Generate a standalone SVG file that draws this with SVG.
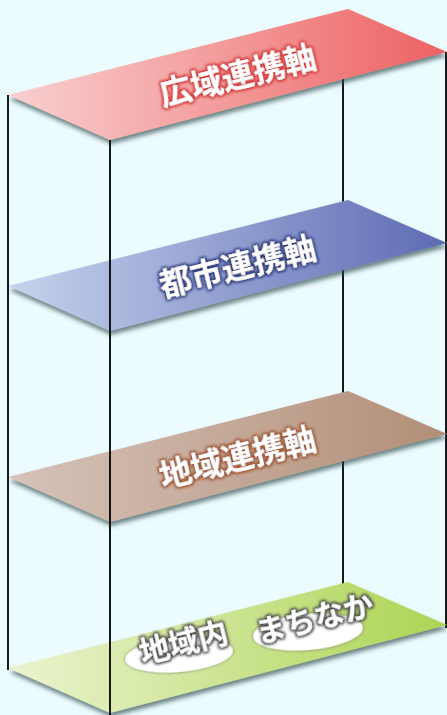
<svg xmlns="http://www.w3.org/2000/svg" width="447" height="715" viewBox="0 0 447 715">
<defs>
<style>
.ln{stroke:#000;stroke-width:1.8;fill:none}
.lbl{font-family:"Noto Sans CJK JP","Noto Sans",sans-serif;font-weight:bold;font-size:32px;fill:#fff;text-anchor:middle;dominant-baseline:central}
.lbl2{font-family:"Noto Sans CJK JP","Noto Sans",sans-serif;font-weight:bold;font-size:30px;fill:#fff;text-anchor:middle;dominant-baseline:central}
</style>
<polygon id="pl" points="8,95 348,9 447,52 110,140"/>
<linearGradient id="gR" x1="8" y1="0" x2="447" y2="0" gradientUnits="userSpaceOnUse"><stop offset="0" stop-color="#F9D0D0"/><stop offset="1" stop-color="#ED6262"/></linearGradient>
<linearGradient id="gB" x1="8" y1="0" x2="447" y2="0" gradientUnits="userSpaceOnUse"><stop offset="0" stop-color="#C7D2EC"/><stop offset="1" stop-color="#5D6BB4"/></linearGradient>
<linearGradient id="gT" x1="8" y1="0" x2="447" y2="0" gradientUnits="userSpaceOnUse"><stop offset="0" stop-color="#D6C3B9"/><stop offset="1" stop-color="#B28E77"/></linearGradient>
<linearGradient id="gG" x1="8" y1="0" x2="447" y2="0" gradientUnits="userSpaceOnUse"><stop offset="0" stop-color="#EBF4D0"/><stop offset="1" stop-color="#ADD454"/></linearGradient>
<filter id="sh" x="-10%" y="-20%" width="120%" height="150%"><feDropShadow dx="1" dy="4" stdDeviation="2.2" flood-color="#2a4848" flood-opacity="0.65"/></filter>
<filter id="esh" x="-20%" y="-40%" width="140%" height="180%"><feDropShadow dx="0" dy="0" stdDeviation="1.6" flood-color="#555" flood-opacity="0.8"/></filter>
<filter id="glR" x="-20%" y="-50%" width="140%" height="200%"><feMorphology in="SourceAlpha" operator="dilate" radius="1.2" result="d"/><feGaussianBlur in="d" stdDeviation="1.6" result="b"/><feFlood flood-color="#D43A3A"/><feComposite in2="b" operator="in" result="g"/><feMerge><feMergeNode in="g"/><feMergeNode in="g"/><feMergeNode in="SourceGraphic"/></feMerge></filter>
<filter id="glB" x="-20%" y="-50%" width="140%" height="200%"><feMorphology in="SourceAlpha" operator="dilate" radius="1.2" result="d"/><feGaussianBlur in="d" stdDeviation="1.6" result="b"/><feFlood flood-color="#2E3C80"/><feComposite in2="b" operator="in" result="g"/><feMerge><feMergeNode in="g"/><feMergeNode in="g"/><feMergeNode in="SourceGraphic"/></feMerge></filter>
<filter id="glT" x="-20%" y="-50%" width="140%" height="200%"><feMorphology in="SourceAlpha" operator="dilate" radius="1.2" result="d"/><feGaussianBlur in="d" stdDeviation="1.6" result="b"/><feFlood flood-color="#A0552E"/><feComposite in2="b" operator="in" result="g"/><feMerge><feMergeNode in="g"/><feMergeNode in="g"/><feMergeNode in="SourceGraphic"/></feMerge></filter>
<filter id="glG" x="-20%" y="-50%" width="140%" height="200%"><feMorphology in="SourceAlpha" operator="dilate" radius="1.2" result="d"/><feGaussianBlur in="d" stdDeviation="1.6" result="b"/><feFlood flood-color="#4A4A4A"/><feComposite in2="b" operator="in" result="g"/><feMerge><feMergeNode in="g"/><feMergeNode in="g"/><feMergeNode in="SourceGraphic"/></feMerge></filter>
</defs>
<rect width="447" height="715" fill="#ECFBFE"/>
<g id="back-lines">
<line class="ln" x1="343" y1="70" x2="343" y2="600"/>
<line class="ln" x1="446" y1="52" x2="446" y2="628"/>
</g>
<g id="layer-kouiki">
<use href="#pl" fill="url(#gR)" filter="url(#sh)"/>
<text class="lbl" x="237" y="73" transform="rotate(-14 237 73)" filter="url(#glR)">広域連携軸</text>
</g>
<g id="layer-toshi" transform="translate(0,191)">
<use href="#pl" fill="url(#gB)" filter="url(#sh)"/>
<text class="lbl" x="237" y="73" transform="rotate(-14 237 73)" filter="url(#glB)">都市連携軸</text>
</g>
<g id="layer-chiiki" transform="translate(0,382)">
<use href="#pl" fill="url(#gT)" filter="url(#sh)"/>
<text class="lbl" x="237" y="73" transform="rotate(-14 237 73)" filter="url(#glT)">地域連携軸</text>
</g>
<g id="layer-machinaka" transform="translate(0,573)">
<use href="#pl" fill="url(#gG)" filter="url(#sh)"/>
</g>
<g id="front-lines">
<line class="ln" x1="8" y1="95" x2="8" y2="670"/>
<line class="ln" x1="110" y1="140" x2="110" y2="715"/>
</g>
<g id="node-chiikinai">
<ellipse cx="179" cy="655" rx="54" ry="17" transform="rotate(-5 179 655)" fill="#fff" filter="url(#esh)"/>
<text class="lbl2" x="183" y="640" transform="rotate(-14 183 640)" filter="url(#glG)">地域内</text>
</g>
<g id="node-machinaka">
<ellipse cx="308" cy="632" rx="55" ry="18" transform="rotate(-5 308 632)" fill="#fff" filter="url(#esh)"/>
<text class="lbl2" x="314" y="616" transform="rotate(-14 314 616)" filter="url(#glG)">まちなか</text>
</g>
</svg>
